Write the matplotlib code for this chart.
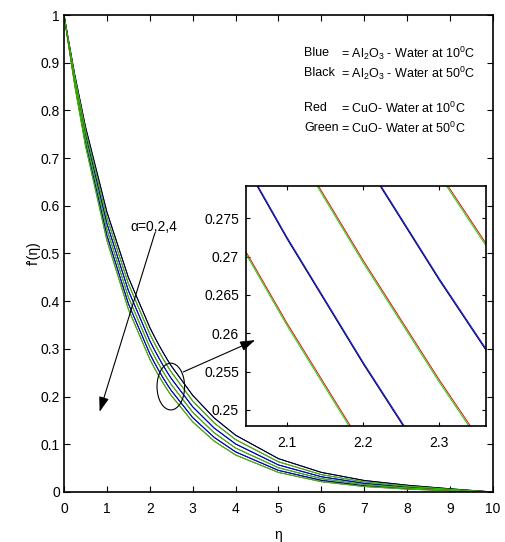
import numpy as np
import matplotlib
matplotlib.use('Agg')
import matplotlib.pyplot as plt
from matplotlib.patches import Ellipse

plt.rcParams['font.family'] = ['Liberation Sans', 'DejaVu Sans']
plt.rcParams['mathtext.fontset'] = 'custom'
plt.rcParams['mathtext.rm'] = 'Liberation Sans'
plt.rcParams['mathtext.it'] = 'Liberation Sans'
plt.rcParams['font.size'] = 10

eta = [0, 0.25, 0.5, 1, 1.5, 2, 2.1, 2.2, 2.3, 2.4, 2.5, 3, 3.5, 4, 5, 6, 7, 8, 9, 10]

# Al2O3 - water at 10 C (blue), alpha = 0, 2, 4
al10_a0 = [1, 0.8755, 0.7664, 0.5874, 0.4502, 0.3451, 0.3272, 0.3102, 0.2942, 0.2789, 0.2645, 0.2027, 0.1554, 0.1191, 0.0699, 0.0411, 0.0241, 0.0142, 0.0067, 0]
al10_a2 = [1, 0.8663, 0.7505, 0.5633, 0.4227, 0.3173, 0.2996, 0.2829, 0.2671, 0.2522, 0.2381, 0.1787, 0.1341, 0.1007, 0.0567, 0.0319, 0.0180, 0.0101, 0.0045, 0]
al10_a4 = [1, 0.8566, 0.7338, 0.5385, 0.3952, 0.2900, 0.2725, 0.2562, 0.2408, 0.2264, 0.2128, 0.1561, 0.1146, 0.0841, 0.0453, 0.0244, 0.0131, 0.0071, 0.0030, 0]
# Al2O3 - water at 50 C (black)
al50_a0 = [1, 0.8754, 0.7662, 0.5871, 0.4499, 0.3449, 0.3270, 0.3100, 0.2940, 0.2787, 0.2643, 0.2025, 0.1552, 0.1190, 0.0698, 0.0410, 0.0241, 0.0142, 0.0067, 0]
al50_a2 = [1, 0.8662, 0.7503, 0.5630, 0.4224, 0.3171, 0.2994, 0.2827, 0.2669, 0.2520, 0.2379, 0.1785, 0.1340, 0.1006, 0.0566, 0.0319, 0.0180, 0.0101, 0.0045, 0]
al50_a4 = [1, 0.8565, 0.7336, 0.5382, 0.3949, 0.2898, 0.2723, 0.2560, 0.2406, 0.2262, 0.2126, 0.1559, 0.1145, 0.0840, 0.0452, 0.0244, 0.0131, 0.0071, 0.0030, 0]
# CuO - water at 10 C (red)
cu10_a0 = [1, 0.8711, 0.7588, 0.5758, 0.4369, 0.3315, 0.3137, 0.2969, 0.2809, 0.2659, 0.2516, 0.1909, 0.1449, 0.1099, 0.0633, 0.0364, 0.0210, 0.0121, 0.0056, 0]
cu10_a2 = [1, 0.8616, 0.7423, 0.5510, 0.4090, 0.3036, 0.2860, 0.2695, 0.2539, 0.2392, 0.2254, 0.1673, 0.1242, 0.0922, 0.0508, 0.0280, 0.0154, 0.0085, 0.0037, 0]
cu10_a4 = [1, 0.8524, 0.7265, 0.5278, 0.3835, 0.2786, 0.2613, 0.2452, 0.2300, 0.2157, 0.2024, 0.1471, 0.1068, 0.0776, 0.0410, 0.0216, 0.0114, 0.0060, 0.0025, 0]
# CuO - water at 50 C (green)
cu50_a0 = [1, 0.8710, 0.7585, 0.5754, 0.4365, 0.3312, 0.3134, 0.2966, 0.2806, 0.2656, 0.2513, 0.1906, 0.1447, 0.1097, 0.0632, 0.0363, 0.0210, 0.0121, 0.0056, 0]
cu50_a2 = [1, 0.8615, 0.7420, 0.5506, 0.4086, 0.3033, 0.2857, 0.2692, 0.2536, 0.2389, 0.2251, 0.1670, 0.1240, 0.0920, 0.0507, 0.0279, 0.0154, 0.0085, 0.0037, 0]
cu50_a4 = [1, 0.8523, 0.7262, 0.5274, 0.3831, 0.2783, 0.2610, 0.2449, 0.2297, 0.2154, 0.2021, 0.1468, 0.1066, 0.0774, 0.0409, 0.0215, 0.0114, 0.0060, 0.0025, 0]

legend_names = ['Blue', 'Black', 'Red', 'Green']
legend_texts = [r'= Al$_2$O$_3$ - Water at 10$^0$C',
                r'= Al$_2$O$_3$ - Water at 50$^0$C',
                r'= CuO- Water at 10$^0$C',
                r'= CuO- Water at 50$^0$C']

BLUE, BLACK, RED, GREEN = '#0000ff', '#000000', '#ff0000', '#00dd00'
curves = [
    (al50_a4, BLACK), (al10_a4, BLUE), (cu10_a4, RED), (cu50_a4, GREEN),
    (al50_a2, BLACK), (al10_a2, BLUE), (cu10_a2, RED), (cu50_a2, GREEN),
    (al10_a0, BLUE), (al50_a0, BLACK), (cu10_a0, RED), (cu50_a0, GREEN),
]

fig = plt.figure(figsize=(5.05, 5.42), dpi=100)
ax = fig.add_axes([0.1267, 0.0923, 0.8495, 0.88])

for y, c in curves:
    ax.plot(eta, y, color=c, lw=0.7)

ax.set_xlim(0, 10)
ax.set_ylim(0, 1)
ax.set_xticks(range(0, 11))
ax.set_yticks(np.arange(0, 1.01, 0.1))
ax.set_yticklabels(['0', '0.1', '0.2', '0.3', '0.4', '0.5', '0.6', '0.7', '0.8', '0.9', '1'])
ax.tick_params(direction='in', top=True, right=True, length=4, width=0.8, labelsize=10)
ax.tick_params(axis='x', pad=7)
ax.tick_params(axis='y', pad=3)
for s in ax.spines.values():
    s.set_linewidth(1.2)
ax.set_xlabel('η', fontsize=10, labelpad=9)
ax.set_ylabel("f'(η)", fontsize=10, labelpad=0)

# legend-like text block
ys = [0.920, 0.878, 0.805, 0.763]
for name, txt, yy in zip(legend_names, legend_texts, ys):
    ax.text(5.6, yy, name, va='center', ha='left', fontsize=9)
    ax.text(6.45, yy, txt, va='center', ha='left', fontsize=9)

# alpha arrow
ax.text(1.55, 0.556, 'α=0,2,4', va='center', ha='left', fontsize=10)
ax.annotate('', xy=(0.83, 0.168), xytext=(2.12, 0.543),
            arrowprops=dict(arrowstyle='-|>,head_length=0.9,head_width=0.3',
                            color='black', lw=0.8, shrinkA=0, shrinkB=0))

# ellipse marking the zoomed region
ax.add_patch(Ellipse((2.49, 0.221), 0.643, 0.098, fill=False, ec='black', lw=0.8, zorder=5))

# inset
axin = fig.add_axes([0.487, 0.214, 0.475, 0.4428])
for y, c in curves:
    axin.plot(eta, y, color=c, lw=0.7)
axin.set_xlim(2.046, 2.361)
axin.set_ylim(0.2479, 0.2792)
axin.set_xticks([2.1, 2.2, 2.3])
axin.set_xticklabels(['2.1', '2.2', '2.3'])
axin.set_yticks([0.25, 0.255, 0.26, 0.265, 0.27, 0.275])
axin.set_yticklabels(['0.25', '0.255', '0.26', '0.265', '0.27', '0.275'])
axin.tick_params(direction='in', top=True, right=True, length=3, width=0.8, labelsize=10)
axin.tick_params(axis='x', pad=7)
axin.tick_params(axis='y', pad=5)
for s in axin.spines.values():
    s.set_linewidth(1.2)

# arrow from ellipse to inset
axin.annotate('', xy=(2.058, 0.2591), xycoords='data',
              xytext=(2.78, 0.2516), textcoords=ax.transData,
              arrowprops=dict(arrowstyle='-|>,head_length=0.9,head_width=0.3',
                              color='black', lw=0.8, shrinkA=0, shrinkB=0),
              annotation_clip=False)

fig.savefig('out.png', dpi=100)
